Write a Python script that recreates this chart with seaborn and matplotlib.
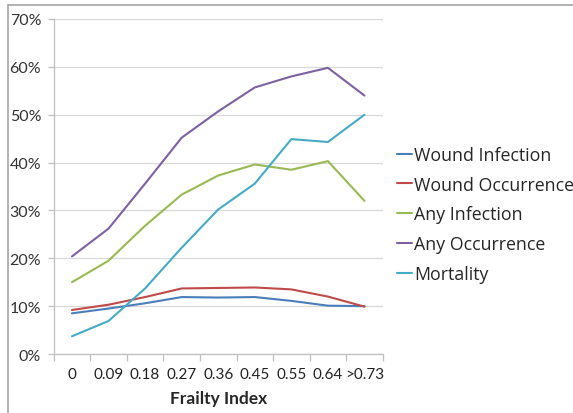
import pandas as pd
import seaborn as sns
import matplotlib.pyplot as plt
from matplotlib.lines import Line2D
from matplotlib.ticker import PercentFormatter, FixedLocator

# Data (percent)
frailty = ['0', '0.09', '0.18', '0.27', '0.36', '0.45', '0.55', '0.64', '>0.73']
wound_infection = [8.5, 9.5, 10.6, 11.9, 11.8, 11.9, 11.1, 10.1, 10.0]
wound_occurrence = [9.2, 10.3, 11.9, 13.7, 13.8, 13.9, 13.5, 12.0, 9.9]
any_infection = [15.0, 19.5, 26.8, 33.3, 37.3, 39.6, 38.5, 40.3, 32.0]
any_occurrence = [20.4, 26.2, 35.6, 45.2, 50.7, 55.7, 58.0, 59.8, 54.0]
mortality = [3.7, 6.9, 13.7, 22.2, 30.2, 35.6, 44.9, 44.3, 50.0]

series = ['Wound Infection', 'Wound Occurrence', 'Any Infection', 'Any Occurrence', 'Mortality']
colors = ['#4A7EBB', '#BE4B48', '#98B954', '#7D60A0', '#46AAC5']

df = pd.DataFrame({
    'Frailty Index': frailty * 5,
    'rate': wound_infection + wound_occurrence + any_infection + any_occurrence + mortality,
    'series': [s for s in series for _ in frailty],
})

sns.set_style('white')
plt.rcParams['font.family'] = ['Lato', 'DejaVu Sans']

fig = plt.figure(figsize=(5.73, 4.14), dpi=100)
ax = fig.add_axes([0.0937, 0.1425, 0.5743, 0.8092])

sns.lineplot(data=df, x='Frailty Index', y='rate', hue='series', hue_order=series,
             palette=colors, linewidth=1.5, ax=ax, legend=False, sort=False)

ax.set_ylim(0, 70)
ax.set_xlim(-0.5, 8.5)
ax.set_yticks(range(0, 71, 10))
ax.yaxis.set_major_formatter(PercentFormatter(decimals=0))
ax.grid(axis='y', color='#d9d9d9', linewidth=0.9)
ax.set_axisbelow(True)

for s in ['top', 'right']:
    ax.spines[s].set_visible(False)
for s in ['left', 'bottom']:
    ax.spines[s].set_color('#bfbfbf')
    ax.spines[s].set_linewidth(0.9)

ax.set_xticks(range(len(frailty)))
ax.set_xticklabels(frailty)
ax.xaxis.set_minor_locator(FixedLocator([i - 0.5 for i in range(len(frailty) + 1)]))
ax.tick_params(axis='x', which='major', length=0, pad=9, labelsize=11, colors='#222222')
ax.tick_params(axis='x', which='minor', length=5, color='#bfbfbf', width=0.9, bottom=True)
ax.tick_params(axis='y', which='major', length=4, color='#bfbfbf', width=0.9, left=True,
               labelsize=11.5, labelcolor='#333333', pad=5)
ax.set_ylabel('')
ax.set_xlabel('Frailty Index', fontsize=12.5, fontweight='bold', labelpad=7)

handles = [Line2D([0], [0], color=c, lw=1.5) for c in colors]
fig.legend(handles, series, loc='upper left', bbox_to_anchor=(0.693, 0.645),
           frameon=False, prop={'family': ['Open Sans', 'DejaVu Sans'], 'size': 12.8},
           handlelength=0.85, handletextpad=0.1,
           labelspacing=0.66, borderaxespad=0, borderpad=0)

# chart-area border (left and top edges visible in the crop)
fig.add_artist(Line2D([7.5 / 573, 7.5 / 573], [0, 1 - 6 / 414], color='#a6a6a6', lw=1.2,
                      transform=fig.transFigure))
fig.add_artist(Line2D([7.5 / 573, 1], [1 - 6 / 414, 1 - 6 / 414], color='#a6a6a6', lw=1.2,
                      transform=fig.transFigure))

fig.savefig('out.png', dpi=100)
